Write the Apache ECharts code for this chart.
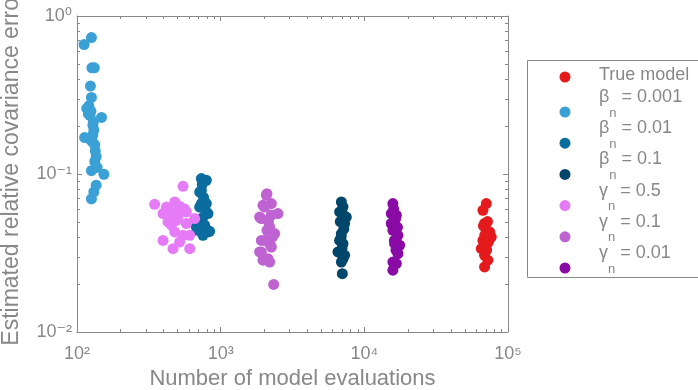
<!DOCTYPE html>
<html>
<head>
<meta charset="utf-8">
<script src="https://cdn.jsdelivr.net/npm/echarts@6/dist/echarts.min.js"></script>
<style>
  html, body { margin: 0; padding: 0; background: #fff; }
  #chart { width: 698px; height: 390px; }
</style>
</head>
<body>
<div id="chart"></div>
<script>
// series names, legend order
const seriesNames = ['True model', 'βn = 0.001', 'βn = 0.01', 'βn = 0.1', 'γn = 0.5', 'γn = 0.1', 'γn = 0.01'];
const seriesColors = ['#e41a1c', '#3ba0d5', '#0a6c9f', '#02466b', '#e57bf6', '#bf62d2', '#8a0aa6'];

// [number of model evaluations, estimated relative covariance error]
const trueModel = [[70600, 0.065], [66900, 0.0589], [68700, 0.0486], [74500, 0.043], [66900, 0.038], [70600, 0.0354],
  [68700, 0.0306], [72400, 0.0285], [68700, 0.0258], [76500, 0.0399], [65200, 0.0337], [70000, 0.045], [72000, 0.050],
  [69000, 0.041], [71000, 0.033], [67500, 0.047], [73000, 0.037]];
const beta001 = [[126, 0.73], [112, 0.66], [127, 0.47], [132, 0.47], [124, 0.36], [126, 0.305], [121, 0.27], [117, 0.26],
  [125, 0.25], [123, 0.235], [120, 0.24], [148, 0.228], [130, 0.215], [129, 0.204], [131, 0.19], [129, 0.177], [113, 0.17],
  [124, 0.165], [128, 0.16], [133, 0.153], [134, 0.14], [136, 0.129], [133, 0.12], [138, 0.11], [126, 0.105], [154, 0.0996],
  [136, 0.085], [131, 0.077], [126, 0.0695]];
const beta01 = [[734, 0.0935], [795, 0.0912], [745, 0.086], [734, 0.0788], [714, 0.0769], [760, 0.071], [774, 0.0665],
  [734, 0.065], [795, 0.065], [714, 0.0618], [790, 0.058], [816, 0.0562], [750, 0.053], [734, 0.0509], [774, 0.0474],
  [677, 0.0462], [695, 0.044], [838, 0.0434], [816, 0.043], [753, 0.0409]];
const beta1 = [[6920, 0.0665], [7100, 0.062], [6730, 0.0575], [7150, 0.055], [7490, 0.0534], [6800, 0.050], [7290, 0.0486],
  [7200, 0.045], [6920, 0.042], [6900, 0.040], [6730, 0.038], [7100, 0.0363], [7000, 0.034], [6550, 0.0321], [7290, 0.0306],
  [7100, 0.029], [6920, 0.0277], [7030, 0.0234]];
const gamma5 = [[547, 0.0836], [479, 0.0665], [347, 0.0643], [518, 0.0625], [419, 0.0618], [560, 0.060], [445, 0.058],
  [577, 0.0575], [397, 0.0562], [466, 0.0562], [505, 0.054], [659, 0.0522], [492, 0.0509], [430, 0.0497], [577, 0.0486],
  [454, 0.0474], [479, 0.043], [547, 0.0409], [609, 0.0409], [397, 0.038], [518, 0.0371], [466, 0.0337], [609, 0.0337]];
const gamma1 = [[2099, 0.0751], [2080, 0.0733], [2254, 0.065], [1969, 0.0634], [2024, 0.0618], [2505, 0.0562], [2250, 0.055],
  [1868, 0.0534], [1920, 0.0522], [2150, 0.050], [2193, 0.0462], [2100, 0.044], [2375, 0.042], [2300, 0.040], [2024, 0.038],
  [1920, 0.038], [2200, 0.036], [2254, 0.0345], [1920, 0.0321], [1868, 0.0321], [2134, 0.0291], [1969, 0.0285],
  [2193, 0.0277], [2338, 0.020]];
const gamma01 = [[15800, 0.065], [16000, 0.060], [15400, 0.0562], [16700, 0.0549], [16500, 0.052], [15400, 0.0486],
  [17000, 0.046], [15800, 0.044], [17140, 0.0409], [16200, 0.038], [16250, 0.0363], [17610, 0.0354], [16600, 0.033],
  [17140, 0.0313], [15800, 0.0277], [16700, 0.0271], [15800, 0.0246]];
const seriesData = [trueModel, beta001, beta01, beta1, gamma5, gamma1, gamma01];

// axes
const xMin = 100, xMax = 100000;
const yMin = 0.01, yMax = 1;
const xMinorTicks = [200, 300, 400, 500, 600, 700, 800, 900, 2000, 3000, 4000, 5000, 6000, 7000, 8000, 9000,
  20000, 30000, 40000, 50000, 60000, 70000, 80000, 90000];
const yMinorTicks = [0.02, 0.03, 0.04, 0.05, 0.06, 0.07, 0.08, 0.09, 0.2, 0.3, 0.4, 0.5, 0.6, 0.7, 0.8, 0.9];

const gray = '#888';
const font = 'Liberation Sans, Arial, DejaVu Sans, sans-serif';

const sup = { '0': '⁰', '1': '¹', '2': '²', '3': '³', '4': '⁴', '5': '⁵', '-': '⁻' };
const powLabel = (v) => {
    const e = String(Math.round(Math.log10(v)));
    return '10' + e.split('').map((c) => sup[c]).join('');
};

const baseAxis = {
    type: 'log',
    logBase: 10,
    axisLine: { lineStyle: { color: gray, width: 1 } },
    axisTick: { inside: true, length: 5, lineStyle: { color: gray } },
    splitLine: { show: false },
    minorTick: { show: false }
};

// minor ticks drawn at the frame edges through the axes' scale
function renderMinorX(params, api) {
    const v = api.value(0);
    const b = api.coord([v, yMin]);
    const t = api.coord([v, yMax]);
    const x = Math.round(b[0]) + 0.5;
    return {
        type: 'group',
        children: [
            { type: 'line', shape: { x1: x, y1: b[1], x2: x, y2: b[1] - 3 }, style: { stroke: gray, lineWidth: 1 } },
            { type: 'line', shape: { x1: x, y1: t[1], x2: x, y2: t[1] + 3 }, style: { stroke: gray, lineWidth: 1 } }
        ]
    };
}
function renderMinorY(params, api) {
    const v = api.value(1);
    const l = api.coord([xMin, v]);
    const r = api.coord([xMax, v]);
    const y = Math.round(l[1]) + 0.5;
    return {
        type: 'group',
        children: [
            { type: 'line', shape: { x1: l[0], y1: y, x2: l[0] + 3, y2: y }, style: { stroke: gray, lineWidth: 1 } },
            { type: 'line', shape: { x1: r[0], y1: y, x2: r[0] - 3, y2: y }, style: { stroke: gray, lineWidth: 1 } }
        ]
    };
}

// legend drawn as graphic elements (Mathematica style: lowered subscript n)
const measure = document.createElement('canvas').getContext('2d');
function legendGraphics() {
    const els = [{
        type: 'rect',
        shape: { x: 527.5, y: 60.5, width: 200, height: 217 },
        style: { fill: 'none', stroke: gray, lineWidth: 1 },
        silent: true
    }];
    const markX = 565, textX = 599;
    seriesNames.forEach((name, i) => {
        const cy = i === 0 ? 77 : 112 + (i - 1) * 31.2;
        els.push({ type: 'circle', shape: { cx: markX, cy: cy, r: 5.5 }, style: { fill: seriesColors[i] }, silent: true });
        const txt = (x, y, s, size) => ({
            type: 'text', x: x, y: y, silent: true,
            style: { text: s, fill: gray, font: size + 'px ' + font, textAlign: 'left', textVerticalAlign: 'middle' }
        });
        if (i === 0) {
            els.push(txt(textX, cy - 2, name, 18));
        } else {
            measure.font = '18px ' + font;
            const gw = measure.measureText(name[0]).width;
            measure.font = '13px ' + font;
            const nw = measure.measureText('n').width;
            els.push(txt(textX, cy - 15, name[0], 18));
            els.push(txt(textX + gw, cy + 1, 'n', 13));
            els.push(txt(textX + gw + nw, cy - 15, name.slice(2), 18));
        }
    });
    return els;
}

const chart = echarts.init(document.getElementById('chart'), null, { renderer: 'canvas' });
chart.setOption({
    animation: false,
    backgroundColor: '#fff',
    textStyle: { fontFamily: font },
    grid: { left: 77, right: 190, top: 16, bottom: 58, containLabel: false, outerBoundsMode: 'none' },
    xAxis: [
        Object.assign({}, baseAxis, {
            min: xMin, max: xMax,
            name: 'Number of model evaluations',
            nameLocation: 'middle',
            nameGap: 36,
            nameMoveOverlap: false,
            nameTextStyle: { fontSize: 22, color: gray, fontFamily: font },
            axisLabel: {
                formatter: powLabel, margin: 13, fontSize: 18, color: gray, fontFamily: font,
                showMinLabel: true, showMaxLabel: true
            }
        }),
        Object.assign({}, baseAxis, { min: xMin, max: xMax, position: 'top', axisLabel: { show: false } })
    ],
    yAxis: [
        Object.assign({}, baseAxis, {
            min: yMin, max: yMax,
            name: 'Estimated relative covariance error',
            nameLocation: 'middle',
            nameGap: 54,
            nameMoveOverlap: false,
            nameTextStyle: { fontSize: 23, color: gray, fontFamily: font, padding: [0, 0, 0, 12] },
            axisLabel: {
                formatter: powLabel, margin: 5, fontSize: 18, color: gray, fontFamily: font,
                showMinLabel: true, showMaxLabel: true
            }
        }),
        Object.assign({}, baseAxis, { min: yMin, max: yMax, position: 'right', axisLabel: { show: false } })
    ],
    graphic: legendGraphics(),
    series: seriesNames.map((name, i) => ({
        name: name,
        type: 'scatter',
        symbol: 'circle',
        symbolSize: 11,
        itemStyle: { color: seriesColors[i], opacity: 1 },
        data: seriesData[i]
    })).concat([
        {
            type: 'custom',
            silent: true,
            renderItem: renderMinorX,
            data: xMinorTicks.map((v) => [v, yMin]),
            z: 1
        },
        {
            type: 'custom',
            silent: true,
            renderItem: renderMinorY,
            data: yMinorTicks.map((v) => [xMin, v]),
            z: 1
        }
    ])
});
</script>
</body>
</html>
